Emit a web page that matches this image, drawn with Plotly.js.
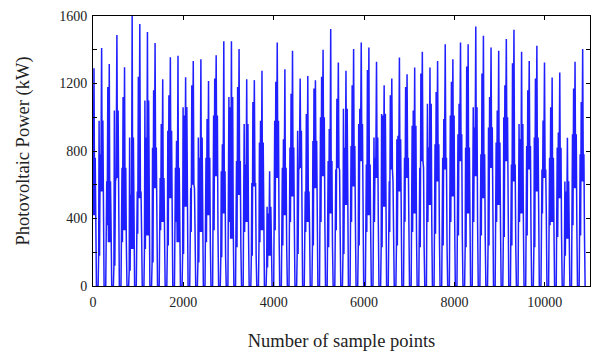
<!DOCTYPE html>
<html>
<head>
<meta charset="utf-8">
<script src="https://cdn.plot.ly/plotly-3.0.1.min.js"></script>
<style>html,body{margin:0;padding:0;background:#fff;}#chart{width:594px;height:352px;}</style>
</head>
<body>
<div id="chart"></div>
<script>
// Daily PV output (kW), one entry per day
const dayPeaks = [1290,1410,1315,1487,1297,1600,1552,1505,1440,1225,
  1356,1364,1237,1334,1344,1215,1368,1450,1450,1404,
  1225,1220,1275,680,1443,1285,1394,1229,1245,1219,
  1400,1523,1324,1275,1404,1443,1414,1329,1190,1229,
  1354,1255,1295,1388,1295,1334,1433,1344,1443,1433,
  1538,1483,1414,1394,1463,1518,1388,1334,1424,1324,
  1235,1265,878,1329,1404];
// morning cloud-broken maxima
const dayMorning = [1050,780,1180,620,1120,540,1240,880,1160,960,
  1130,860,1010,1190,760,990,1230,840,1060,1180,
  720,1090,980,430,1210,870,1140,690,1020,1170,
  1240,930,1110,820,1190,1050,1280,760,1010,1130,
  890,1180,1040,1260,820,1150,990,1210,1080,1300,
  940,1260,1120,1040,1190,1320,870,1160,1230,980,
  1060,910,560,1170,1090];
// afternoon cloud-broken maxima
const dayAfternoon = [760,980,620,1040,700,880,560,1100,820,640,
  920,700,1060,580,880,760,1010,680,1120,740,
  960,610,850,470,980,700,820,920,560,860,
  1000,740,690,1050,830,960,720,880,1020,620,
  870,760,950,700,1080,840,760,1010,900,820,
  1060,780,940,850,1000,720,960,830,880,690,
  760,820,620,900,780];
// midday dips
const dayDip = [420,560,260,640,330,220,520,300,580,380,
  520,260,470,600,320,420,650,430,280,540,
  380,590,330,180,640,420,530,700,380,580,
  650,430,700,480,590,740,420,640,470,690,
  560,640,430,740,480,620,690,530,740,430,
  650,520,700,480,740,620,430,690,560,640,
  380,520,280,580,620];
// morning / evening shoulders
const dayLow = [320,180,360,120,260,90,310,220,140,330,
  240,380,190,320,140,260,330,170,380,230,
  320,180,260,110,330,240,380,190,320,240,
  380,230,330,190,380,240,320,380,230,320,
  240,380,320,230,380,310,240,380,300,230,
  380,300,240,380,290,240,380,300,230,430,
  360,290,180,360,300];
const startValue = 1050;

const samplesPerDay = 169;
const firstPeak = 22;
const xs = [0], ys = [startValue];
for (let i = 0; i < dayPeaks.length; i++) {
  const c = firstPeak + i * samplesPerDay;
  const pts = [[-78,0],[-66,dayLow[i]],[-56,dayAfternoon[i]],[-46,dayLow[i]],
    [-32,dayMorning[i]],[-18,dayDip[i]],[0,dayPeaks[i]],[14,dayDip[i]],
    [27,dayAfternoon[i]],[40,dayLow[i]],[54,0]];
  for (const [o, v] of pts) {
    if (c + o > 0) { xs.push(c + o); ys.push(v); }
  }
}

const tickFont = {family: 'Liberation Serif, Times New Roman, serif', size: 14, color: '#222'};
const titleFont = {family: 'Liberation Serif, Times New Roman, serif', size: 18.5, color: '#222'};
const trace = {
  x: xs, y: ys, type: 'scatter', mode: 'lines',
  line: {color: 'rgba(0,0,255,0.88)', width: 1.5},
  hoverinfo: 'skip'
};
const layout = {
  width: 594, height: 352,
  margin: {l: 93, r: 4, t: 16, b: 66},
  paper_bgcolor: '#fff', plot_bgcolor: '#fff',
  showlegend: false,
  font: tickFont,
  xaxis: {
    range: [0, 11000], tickvals: [0,2000,4000,6000,8000,10000],
    ticktext: ['0','2000','4000','6000','8000','10000'],
    ticks: 'inside', ticklen: 4, tickcolor: '#000', mirror: 'ticks',
    showline: true, linecolor: '#000', linewidth: 1, showgrid: false, zeroline: false,
    tickfont: tickFont, ticklabelstandoff: 3,
    title: {text: 'Number of sample points', font: titleFont, standoff: 25}
  },
  yaxis: {
    range: [0, 1600], tickvals: [0,200,400,600,800,1000,1200,1400,1600],
    ticktext: ['0','','400','','800','','1200','','1600'],
    ticks: 'inside', ticklen: 4, tickcolor: '#000', mirror: 'ticks',
    showline: true, linecolor: '#000', linewidth: 1, showgrid: false, zeroline: false,
    tickfont: tickFont, ticklabelstandoff: 2,
    title: {text: 'Photovoltaic Power (kW)', font: titleFont, standoff: 24}
  }
};
Plotly.newPlot('chart', [trace], layout, {displayModeBar: false, staticPlot: true});
</script>
</body>
</html>
